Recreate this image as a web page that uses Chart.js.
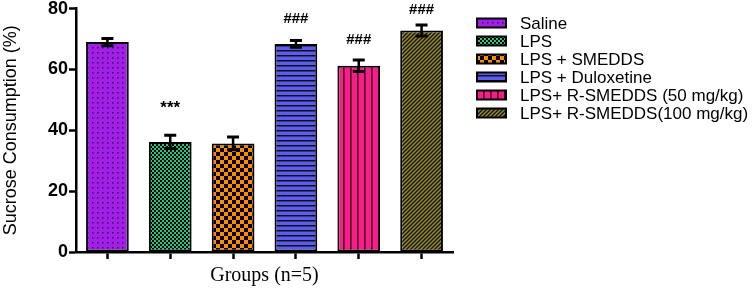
<!DOCTYPE html>
<html>
<head>
<meta charset="utf-8">
<script src="https://cdn.jsdelivr.net/npm/chart.js@4"></script>
<style>
  html, body { margin: 0; padding: 0; background: #fff; }
  #wrap { width: 754px; height: 288px; }
</style>
</head>
<body>
<div id="wrap"><canvas id="grafico"></canvas></div>
<script>
// data
const groups = ['Saline', 'LPS', 'LPS + SMEDDS', 'LPS + Duloxetine', 'LPS+ R-SMEDDS (50 mg/kg)', 'LPS+ R-SMEDDS(100 mg/kg)'];
const means = [69.0, 36.2, 35.7, 68.4, 61.2, 72.8];
const sem = [1.2, 2.2, 2.1, 1.1, 1.9, 1.8];
const marks = ['', '***', '', '###', '###', '###'];
const markAt = [null, 48.5, null, 76.8, 69.8, 79.5];
const yTicks = [0, 20, 40, 60, 80];

// fill patterns (GraphPad style)
function pattern(w, h, paint) {
    const c = document.createElement('canvas');
    c.width = w; c.height = h;
    const g = c.getContext('2d');
    paint(g, w, h);
    return g.createPattern(c, 'repeat');
}
const fills = [
    pattern(5, 5, (g) => { g.fillStyle = '#a21fe8'; g.fillRect(0, 0, 5, 5); g.fillStyle = '#3d0a5c'; g.fillRect(2, 2, 1.5, 1.5); }),
    pattern(4, 4, (g) => { g.fillStyle = '#1fc585'; g.fillRect(0, 0, 4, 4); g.fillStyle = '#000'; g.fillRect(0, 0, 2, 2); g.fillRect(2, 2, 2, 2); }),
    pattern(8, 8, (g) => { g.fillStyle = '#ff8c00'; g.fillRect(0, 0, 8, 8); g.fillStyle = '#000'; g.fillRect(0, 0, 4, 4); g.fillRect(4, 4, 4, 4); }),
    pattern(5, 5, (g) => { g.fillStyle = '#5c5cf2'; g.fillRect(0, 0, 5, 5); g.fillStyle = '#111'; g.fillRect(0, 0, 5, 1.5); }),
    pattern(7, 7, (g) => { g.fillStyle = '#ff1a8c'; g.fillRect(0, 0, 7, 7); g.fillStyle = '#2a0016'; g.fillRect(0, 0, 1.5, 7); }),
    pattern(4, 4, (g) => {
        g.fillStyle = '#968a30'; g.fillRect(0, 0, 4, 4);
        g.strokeStyle = '#111'; g.lineWidth = 1.3;
        g.beginPath(); g.moveTo(-1, 5); g.lineTo(5, -1); g.moveTo(-1, 1); g.lineTo(1, -1); g.moveTo(3, 5); g.lineTo(5, 3); g.stroke();
    })
];

const errorBars = {
    id: 'errorBars',
    afterDatasetsDraw(chart) {
        const ctx = chart.ctx;
        const y = chart.scales.y;
        const bars = chart.getDatasetMeta(0).data;
        ctx.save();
        ctx.strokeStyle = '#000';
        bars.forEach((bar, i) => {
            const top = y.getPixelForValue(means[i] + sem[i]);
            const bot = y.getPixelForValue(means[i] - sem[i]);
            ctx.lineWidth = 2.5;
            ctx.beginPath();
            ctx.moveTo(bar.x, top); ctx.lineTo(bar.x, bot);
            ctx.stroke();
            ctx.lineWidth = 3;
            ctx.beginPath();
            ctx.moveTo(bar.x - 6, top); ctx.lineTo(bar.x + 6, top);
            ctx.moveTo(bar.x - 6, bot); ctx.lineTo(bar.x + 6, bot);
            ctx.stroke();
        });
        // significance marks
        ctx.fillStyle = '#000';
        ctx.textAlign = 'center';
        ctx.textBaseline = 'middle';
        bars.forEach((bar, i) => {
            if (!marks[i]) return;
            ctx.font = marks[i] === '***' ? 'bold 17px "Liberation Sans", Arial' : 'bold 15px "Liberation Sans", Arial';
            const off = marks[i] === '***' ? 4 : 0;
            ctx.fillText(marks[i], bar.x, y.getPixelForValue(markAt[i]) + off);
        });
        ctx.restore();
    }
};

const legendBox = {
    id: 'legendBox',
    afterDraw(chart) {
        const ctx = chart.ctx;
        ctx.save();
        ctx.font = '17px "Liberation Sans", Arial';
        ctx.textBaseline = 'middle';
        ctx.textAlign = 'left';
        groups.forEach((name, i) => {
            const cy = 23 + i * 18;
            ctx.fillStyle = fills[i];
            ctx.fillRect(477, cy - 4.5, 29, 9);
            ctx.strokeStyle = '#000';
            ctx.lineWidth = 2;
            ctx.strokeRect(477, cy - 4.5, 29, 9);
            ctx.fillStyle = '#000';
            ctx.fillText(name, 520, cy + 1);
        });
        ctx.restore();
    }
};

new Chart(document.getElementById('grafico'), {
    type: 'bar',
    data: {
        labels: groups,
        datasets: [{
            data: means,
            backgroundColor: fills,
            borderColor: '#000',
            borderWidth: 2,
            borderSkipped: false,
            barPercentage: 0.68,
            categoryPercentage: 1.0
        }]
    },
    options: {
        responsive: true,
        maintainAspectRatio: false,
        animation: false,
        layout: { padding: { top: 8, right: 301, left: 0, bottom: 0 } },
        plugins: { legend: { display: false }, tooltip: { enabled: false } },
        scales: {
            x: {
                offset: true,
                afterFit: (s) => { s.height = 36; },
                border: { color: '#000', width: 2.5 },
                grid: { display: true, drawOnChartArea: false, drawTicks: true, tickLength: 7, tickWidth: 2.5, tickColor: '#000', offset: false },
                ticks: { display: false },
                title: { display: true, text: 'Groups (n=5)', color: '#000', font: { family: '"Liberation Serif", "Times New Roman", serif', size: 20 }, padding: { top: 9, bottom: 0 } }
            },
            y: {
                min: 0,
                max: 80,
                afterFit: (s) => { s.width = 76; },
                afterBuildTicks: (s) => { s.ticks = yTicks.map(v => ({ value: v })); },
                border: { color: '#000', width: 2.5 },
                grid: { drawOnChartArea: false, drawTicks: true, tickLength: 7, tickWidth: 2.5, tickColor: '#000' },
                ticks: { color: '#000', padding: 1, font: { family: '"Liberation Sans", Arial', size: 18, weight: 'bold', lineHeight: 0.85 } },
                title: { display: true, text: 'Sucrose Consumption (%)', color: '#000', font: { family: '"Liberation Sans", Arial', size: 18 }, padding: { top: 0, bottom: 0 } }
            }
        }
    },
    plugins: [errorBars, legendBox]
});
</script>
</body>
</html>
